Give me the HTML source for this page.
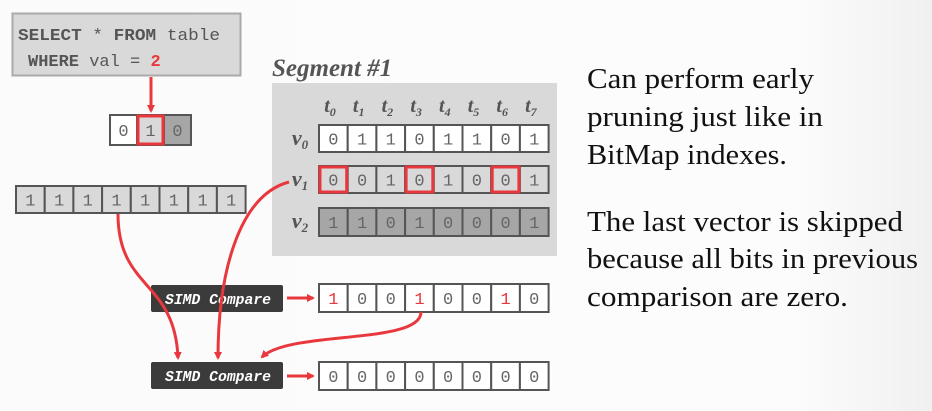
<!DOCTYPE html>
<html><head><meta charset="utf-8"><style>
html,body{margin:0;padding:0;background:#fafafa;}
svg{display:block;}
.mono{font-family:"Liberation Mono","DejaVu Sans Mono",monospace;}
.serif{font-family:"Liberation Serif",serif;}
</style></head><body>
<svg id="s" width="932" height="411" viewBox="0 0 932 411" xmlns="http://www.w3.org/2000/svg">
<defs>
<linearGradient id="bg" x1="0" y1="0" x2="1" y2="0"><stop offset="0" stop-color="#fbfbfb"/><stop offset="0.85" stop-color="#fcfcfc"/><stop offset="1" stop-color="#f0f0f0"/></linearGradient>
<marker id="ah" markerWidth="8" markerHeight="8" refX="6" refY="4" orient="auto" markerUnits="userSpaceOnUse"><path d="M0,0 L8,4 L0,8 Z" fill="#e8383d"/></marker>
</defs>
<rect width="932" height="411" fill="url(#bg)"/>
<g>
<rect x="12.5" y="13.5" width="228" height="62" fill="#d9d9d9" stroke="#aaa" stroke-width="2"/>
<text x="18" y="40" class="mono" font-size="17" fill="#555" textLength="202" lengthAdjust="spacingAndGlyphs"><tspan font-weight="bold">SELECT</tspan> * <tspan font-weight="bold">FROM</tspan> table</text>
<text x="28" y="66" class="mono" font-size="17" fill="#555"><tspan font-weight="bold">WHERE</tspan> val = <tspan fill="#e8383d" font-weight="bold">2</tspan></text>
</g>
<line x1="151" y1="77" x2="151" y2="111" stroke="#e8383d" stroke-width="3" marker-end="url(#ah)"/>
<text x="272" y="76" class="serif" font-size="25" font-weight="bold" font-style="italic" fill="#555">Segment #1</text>
<rect x="272" y="83" width="285" height="173" fill="#d9d9d9"/>
<g id="dyn"></g>
<g>
<rect x="151" y="285" width="132" height="27" rx="2" fill="#3b3b3b"/>
<text x="218" y="304" text-anchor="middle" class="mono" font-size="15" font-style="italic" font-weight="bold" fill="#fff" textLength="106" lengthAdjust="spacingAndGlyphs">SIMD Compare</text>
</g>
<g>
<rect x="151" y="362" width="132" height="27" rx="2" fill="#3b3b3b"/>
<text x="218" y="381" text-anchor="middle" class="mono" font-size="15" font-style="italic" font-weight="bold" fill="#fff" textLength="106" lengthAdjust="spacingAndGlyphs">SIMD Compare</text>
</g>
<line x1="287" y1="298" x2="313" y2="298" stroke="#e8383d" stroke-width="3" marker-end="url(#ah)"/>
<line x1="287" y1="376" x2="313" y2="376" stroke="#e8383d" stroke-width="3" marker-end="url(#ah)"/>
<path d="M118,214 C118,290 175,280 178,358" fill="none" stroke="#e8383d" stroke-width="3" marker-end="url(#ah)"/>
<path d="M289,182 C240,195 218,270 218,358" fill="none" stroke="#e8383d" stroke-width="3" marker-end="url(#ah)"/>
<path d="M421,312 C421,345 290,330 262,357" fill="none" stroke="#e8383d" stroke-width="3" marker-end="url(#ah)"/>
<g class="serif" font-size="28" fill="#111">
<text x="587" y="88" textLength="227" lengthAdjust="spacingAndGlyphs">Can perform early</text>
<text x="587" y="126" textLength="236" lengthAdjust="spacingAndGlyphs">pruning just like in</text>
<text x="587" y="164" textLength="200" lengthAdjust="spacingAndGlyphs">BitMap indexes.</text>
<text x="587" y="231" textLength="316" lengthAdjust="spacingAndGlyphs">The last vector is skipped</text>
<text x="587" y="268" textLength="331" lengthAdjust="spacingAndGlyphs">because all bits in previous</text>
<text x="587" y="306" textLength="261" lengthAdjust="spacingAndGlyphs">comparison are zero.</text>
</g>
</svg>
<script>
const queryBits=[0,1,0];
const filterBits=[1,1,1,1,1,1,1,1];
const v0Bits=[0,1,1,0,1,1,0,1];
const v1Bits=[0,0,1,0,1,0,0,1];
const v2Bits=[1,1,0,1,0,0,0,1];
const result1Bits=[1,0,0,1,0,0,1,0];
const result2Bits=[0,0,0,0,0,0,0,0];
const tLabels=['0','1','2','3','4','5','6','7'];
const NS='http://www.w3.org/2000/svg';
const g=document.getElementById('dyn');
function mk(tag,attrs,parent){const e=document.createElementNS(NS,tag);for(const k in attrs)e.setAttribute(k,attrs[k]);(parent||g).appendChild(e);return e;}
function vec(name,bits,x,y,w,h,fillFn,colorFn,redFn){
  const grp=mk('g',{});
  
  
  bits.forEach((b,i)=>{
    const r=mk('rect',{x:x+i*w,y:y,width:w,height:h,fill:fillFn(i,b),stroke:'#555','stroke-width':2},grp);
    
    
    const t=mk('text',{x:x+i*w+w/2,y:y+h/2+6,'text-anchor':'middle','class':'mono','font-size':17,fill:colorFn(i,b)},grp);
    t.textContent=b;
    
    
  });
  bits.forEach((b,i)=>{ if(redFn(i,b)){
    const r=mk('rect',{x:x+i*w+1,y:y+1,width:w-2,height:h-2,fill:'none',stroke:'#e8383d','stroke-width':3},grp);
    
    
  }});
}
const no=()=>false, grey=()=>'#666';
vec('query-code-vector',queryBits,110,115,27,30,i=>['#fff','#d9d9d9','#a6a6a6'][i]||'#fff',grey,(i)=>queryBits[i]===1);
vec('filter-vector',filterBits,16,186,28.7,27,()=>'#d9d9d9',grey,no);
vec('v0-vector',v0Bits,319,125,28.7,27,()=>'#fff',grey,no);
vec('v1-vector',v1Bits,319,166,28.7,27,()=>'#d9d9d9',grey,(i,b)=>b===0&&result1Bits[i]===1);
vec('v2-vector',v2Bits,319,208,28.7,28,()=>'#a6a6a6',grey,no);
vec('result-vector-1',result1Bits,319,284,28.7,28,()=>'#fff',(i,b)=>b?'#e8383d':'#666',no);
vec('result-vector-2',result2Bits,319,362,28.7,28,()=>'#fff',grey,no);
tLabels.forEach((l,i)=>{
  const t=mk('text',{x:319+i*28.7+11,y:112,'text-anchor':'middle','class':'serif','font-size':20,'font-weight':'bold','font-style':'italic',fill:'#555'});
  t.innerHTML='t<tspan font-size="12" dy="4">'+l+'</tspan>';
  
  
});
[['0',145],['1',186],['2',228]].forEach(([l,y])=>{
  const t=mk('text',{x:300,y:y,'text-anchor':'middle','class':'serif','font-size':22,'font-weight':'bold','font-style':'italic',fill:'#555'});
  t.innerHTML='v<tspan font-size="13" dy="4">'+l+'</tspan>';
  
  
});
</script>
</body></html>
